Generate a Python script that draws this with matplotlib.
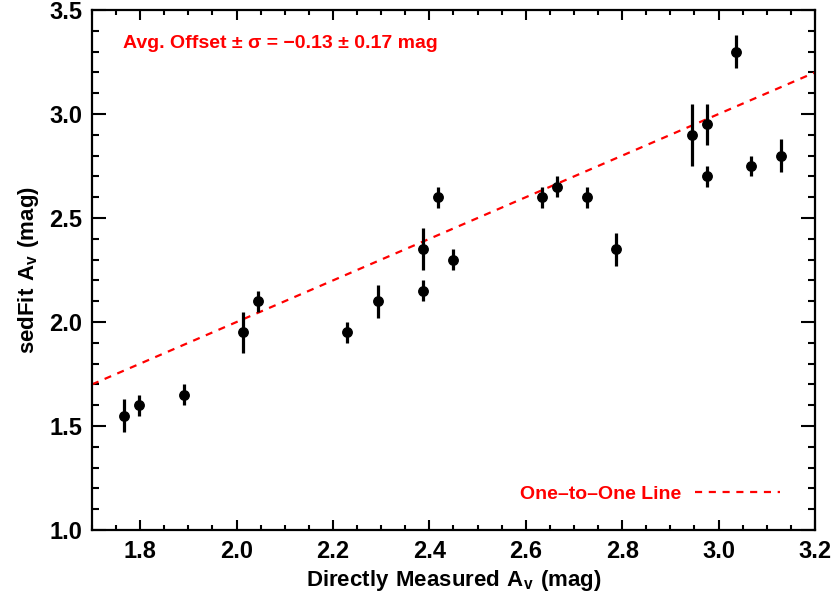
import matplotlib
matplotlib.use("Agg")
import matplotlib.pyplot as plt
import numpy as np
from matplotlib.ticker import MultipleLocator, FormatStrFormatter

#----------------------------------------------------------------------#

# Datos
medido = [1.766, 1.797, 1.890, 2.013, 2.044, 2.230, 2.293, 2.386, 2.386, 2.417, 2.448,
          2.633, 2.664, 2.726, 2.788, 2.944, 2.975, 2.975, 3.037, 3.068, 3.130]
sedfit = [1.55, 1.60, 1.65, 1.95, 2.10, 1.95, 2.10, 2.15, 2.35, 2.60, 2.30,
          2.60, 2.65, 2.60, 2.35, 2.90, 2.95, 2.70, 3.30, 2.75, 2.80]
error = [0.08, 0.05, 0.05, 0.10, 0.05, 0.05, 0.08, 0.05, 0.10, 0.05, 0.05,
         0.05, 0.05, 0.05, 0.08, 0.15, 0.10, 0.05, 0.08, 0.05, 0.08]
linea = [1.7, 3.2]

texto = "Avg. Offset \u00b1 \u03c3 = \u22120.13 \u00b1 0.17 mag"

#----------------------------------------------------------------------#

plt.rcParams['font.family'] = ['Liberation Sans', 'DejaVu Sans']
plt.rcParams['font.weight'] = 'bold'
plt.rcParams['mathtext.fontset'] = 'custom'
plt.rcParams['mathtext.rm'] = 'Liberation Sans:bold'
plt.rcParams['mathtext.bf'] = 'Liberation Sans:bold'
plt.rcParams['mathtext.default'] = 'bf'

fig = plt.figure(figsize=(8.33, 5.96), dpi=100)
ax = fig.add_axes([0.1104, 0.1107, 0.868, 0.8725])

# Linea uno a uno
ax.plot(linea, linea, color='red', lw=1.6, dashes=(3.2, 3.0),
        label='One\u2013to\u2013One Line')

# Puntos con barras de error
ax.errorbar(medido, sedfit, yerr=error, fmt='o', color='black', ms=6.8,
            elinewidth=2.3, capsize=0)

ax.set_xlim(1.7, 3.2)
ax.set_ylim(1.0, 3.5)
ax.xaxis.set_major_locator(MultipleLocator(0.2))
ax.xaxis.set_minor_locator(MultipleLocator(0.05))
ax.yaxis.set_major_locator(MultipleLocator(0.5))
ax.yaxis.set_minor_locator(MultipleLocator(0.1))
ax.xaxis.set_major_formatter(FormatStrFormatter('%.1f'))
ax.yaxis.set_major_formatter(FormatStrFormatter('%.1f'))

ax.tick_params(axis='both', which='both', direction='in', top=True, right=True,
               width=1.5, labelsize=17)
ax.tick_params(axis='x', which='major', length=7.5, pad=7.5)
ax.tick_params(axis='x', which='minor', length=3.8)
ax.tick_params(axis='y', which='major', length=10, pad=7)
ax.tick_params(axis='y', which='minor', length=5)
for s in ax.spines.values():
    s.set_linewidth(1.6)

ax.set_xlabel(r'$\mathbf{Directly\ Measured\ A_{v}\ (mag)}$', fontsize=16, labelpad=3)
ax.set_ylabel(r'$\mathbf{sedFit\ A_{v}\ (mag)}$', fontsize=16, labelpad=6)

ax.text(0.043, 0.935, texto, transform=ax.transAxes, color='red',
        fontsize=14, fontweight='bold', va='center', ha='left')

ax.legend(loc='center right', frameon=False, markerfirst=False, labelcolor='red',
          prop={'size': 14, 'weight': 'bold'}, handlelength=4.4, handletextpad=0.67,
          borderpad=0, borderaxespad=0, bbox_to_anchor=(0.952, 0.069))

fig.savefig('out.png', dpi=100)
